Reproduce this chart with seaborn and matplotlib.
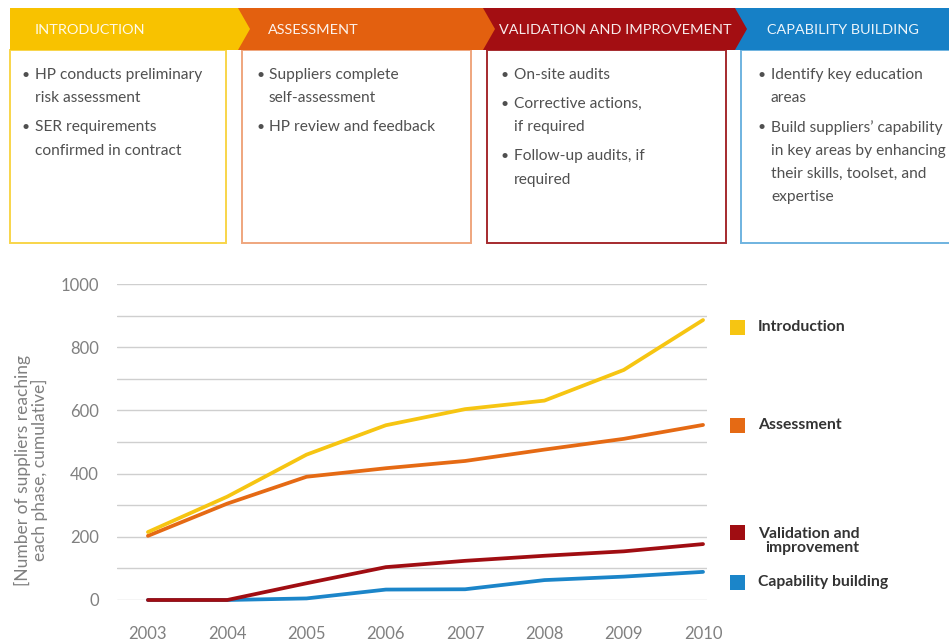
import matplotlib
matplotlib.use("Agg")
import matplotlib.pyplot as plt
from matplotlib.patches import Polygon, Rectangle
import pandas as pd
import seaborn as sns

# ---- data -------------------------------------------------------------
years = [2003, 2004, 2005, 2006, 2007, 2008, 2009, 2010]
introduction = [215, 327, 460, 553, 604, 631, 728, 886]
assessment = [203, 305, 390, 417, 440, 476, 510, 554]
validation = [0, 0, 53, 104, 124, 140, 154, 177]
capability = [0, 0, 5, 33, 34, 63, 74, 89]

series_names = ["Introduction", "Assessment", "Validation and\nimprovement",
                "Capability building"]
series_values = [introduction, assessment, validation, capability]
series_colors = ["#F6C512", "#E56A14", "#A00D12", "#1B85C9"]

phase_titles = ["INTRODUCTION", "ASSESSMENT", "VALIDATION AND IMPROVEMENT",
                "CAPABILITY BUILDING"]
phase_header_colors = ["#F8C200", "#E3600F", "#A30E12", "#1680C6"]
phase_border_colors = ["#F8D54A", "#EFA67E", "#A52A2E", "#6FB3E0"]
phase_bullets = [
    ["HP conducts preliminary\nrisk assessment",
     "SER requirements\nconfirmed in contract"],
    ["Suppliers complete\nself-assessment",
     "HP review and feedback"],
    ["On-site audits",
     "Corrective actions,\nif required",
     "Follow-up audits, if\nrequired"],
    ["Identify key education\nareas",
     "Build suppliers’ capability\nin key areas by enhancing\n"
     "their skills, toolset, and\nexpertise"],
]

y_ticks = [0, 200, 400, 600, 800, 1000]
y_label = "[Number of suppliers reaching\neach phase, cumulative]"

# ---- figure -----------------------------------------------------------
sns.set_theme(style="white")
plt.rcParams["font.family"] = ["Lato", "DejaVu Sans"]

W, H = 949, 644
fig = plt.figure(figsize=(W / 100, H / 100), dpi=100)
fig.patch.set_facecolor("white")

# overlay in pixel units for the process diagram
bg = fig.add_axes([0, 0, 1, 1])
bg.set_xlim(0, W)
bg.set_ylim(H, 0)
bg.axis("off")

# header bands (chevrons), drawn right to left so each tip sits on top
head_top, head_bot = 8, 50
head_mid = (head_top + head_bot) / 2
head_spans = [(10, 238), (238, 483), (483, 735), (735, W + 5)]
title_x = [35, 268, 499, 767]
tip = 12
for i in reversed(range(4)):
    x0, x1 = head_spans[i]
    if i < 3:
        pts = [(x0, head_top), (x1, head_top), (x1 + tip, head_mid),
               (x1, head_bot), (x0, head_bot)]
    else:
        pts = [(x0, head_top), (x1, head_top), (x1, head_bot), (x0, head_bot)]
    bg.add_patch(Polygon(pts, closed=True, facecolor=phase_header_colors[i],
                         edgecolor="none", zorder=2 + (4 - i)))
    bg.text(title_x[i], head_mid + 1, phase_titles[i], color="white",
            fontsize=10.4, va="center", ha="left", zorder=10, alpha=0.92)

# body boxes with bullet lists
box_spans = [(10, 226), (242, 471), (487, 726), (741, W + 5)]
bullet_dx = [12, 14, 14, 17]
box_top, box_bot = 50, 243
line_step, bullet_step = 23.3, 29
for i in range(4):
    x0, x1 = box_spans[i]
    bg.add_patch(Rectangle((x0, box_top), x1 - x0, box_bot - box_top,
                           facecolor="none", edgecolor=phase_border_colors[i],
                           linewidth=1.4, zorder=1))
    y = 75
    for item in phase_bullets[i]:
        lines = item.split("\n")
        bg.text(x0 + bullet_dx[i], y, "•", color="#505050", fontsize=10,
                va="center", ha="left")
        for k, line in enumerate(lines):
            bg.text(x0 + bullet_dx[i] + 13, y, line, color="#505050",
                    fontsize=11.2, va="center", ha="left")
            if k < len(lines) - 1:
                y += line_step
        y += bullet_step

# ---- line chart --------------------------------------------------------
ax_l, ax_r, ax_t, ax_b = 117, 707, 284, 600
ax = fig.add_axes([ax_l / W, 1 - ax_b / H, (ax_r - ax_l) / W, (ax_b - ax_t) / H])

df = pd.DataFrame({
    "year": years * 4,
    "value": sum(series_values, []),
    "phase": sum([[n] * len(years) for n in series_names], []),
})
palette = dict(zip(series_names, series_colors))
sns.lineplot(data=df, x="year", y="value", hue="phase",
             hue_order=series_names[::-1], palette=palette, linewidth=2.7,
             legend=False, ax=ax, clip_on=False, zorder=3)

ax.set_xlim(2002.61, 2010.05)
ax.set_ylim(0, 1000)
ax.set_yticks(range(0, 1001, 100))
ax.set_yticklabels([str(v) if v in y_ticks else "" for v in range(0, 1001, 100)])
ax.yaxis.grid(True, color="#cfcfcf", linewidth=1.0)
ax.xaxis.grid(False)
ax.set_xticks(years)
ax.set_xticklabels([str(y) for y in years])
ax.tick_params(axis="both", length=0, labelsize=12, labelcolor="#808080")
ax.tick_params(axis="y", pad=13)
ax.tick_params(axis="x", pad=19)
for s in ax.spines.values():
    s.set_visible(False)
ax.set_xlabel("")
ax.set_ylabel("")
ax.set_facecolor("none")

fig.text(31 / W, 1 - 470 / H, y_label, rotation=90, ha="center", va="center",
         multialignment="center", fontsize=12.5, color="#808080",
         linespacing=1.05)

# legend squares and labels beside the line ends
legend_y = [327, 425, 541, 582]
for name, color, ly in zip(series_names, series_colors, legend_y):
    sq_y = ly - 9 if "\n" in name else ly
    bg.add_patch(Rectangle((730, sq_y - 7.5), 15, 15, facecolor=color,
                           edgecolor="none"))
    bg.text(758, ly, name, fontsize=11.3, fontweight="bold", color="#333333",
            va="center", ha="left", multialignment="right",
            linespacing=1.0)

fig.savefig("out.png", dpi=100, facecolor="white")
